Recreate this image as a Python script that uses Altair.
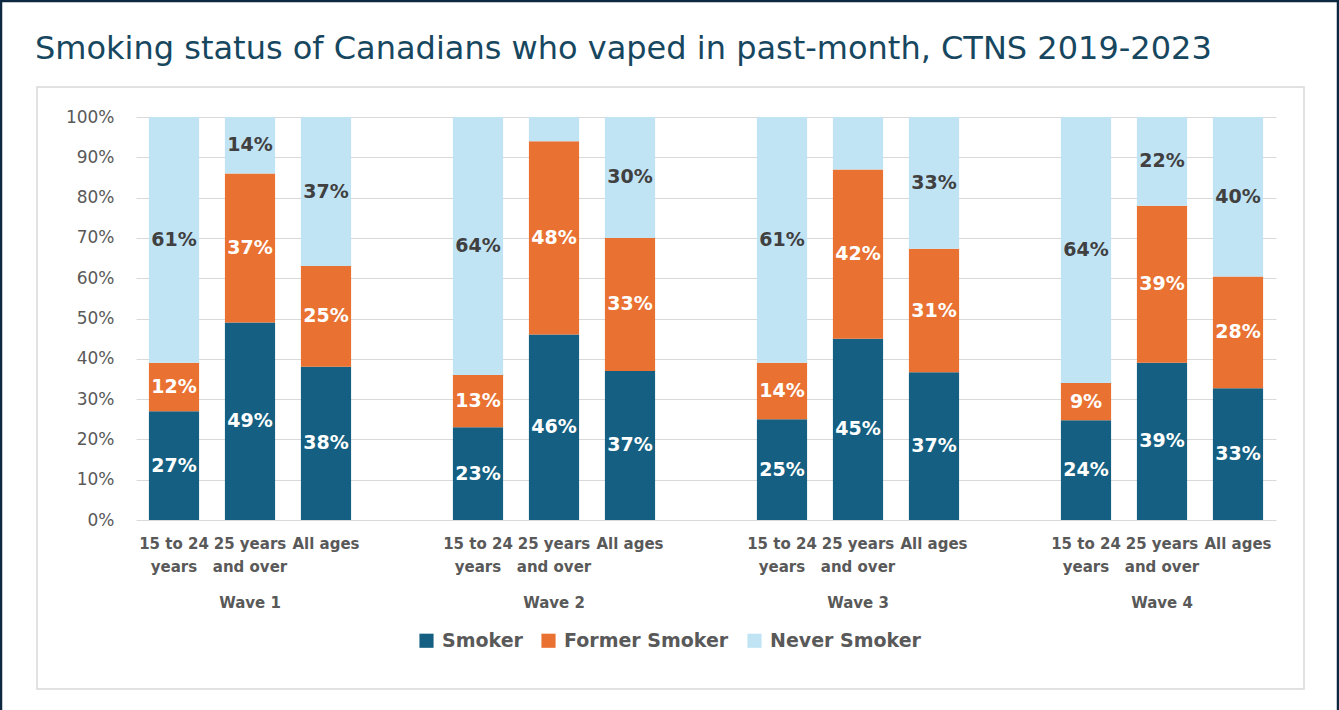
import altair as alt
import pandas as pd

# ---------------- data ----------------
waves = ["Wave 1", "Wave 2", "Wave 3", "Wave 4"]
groups = ["15 to 24 years", "25 years and over", "All ages"]
group_line1 = ["15 to 24", "25 years", "All ages"]
group_line2 = ["years", "and over", ""]
statuses = ["Smoker", "Former Smoker", "Never Smoker"]
colors = ["#156082", "#E97132", "#C1E4F5"]

# values in order: (wave1: 15-24, 25+, all), (wave2 ...), ...
smoker = [27, 49, 38, 23, 46, 37, 25, 45, 37, 24, 39, 33]
former = [12, 37, 25, 13, 48, 33, 14, 42, 31, 9, 39, 28]
never = [61, 14, 37, 64, 6, 30, 61, 13, 33, 64, 22, 40]
hidden = {("Wave 2", "25 years and over", "Never Smoker"),
          ("Wave 3", "25 years and over", "Never Smoker")}

# slot domain (with an empty slot between waves)
slot_domain = []
for i, w in enumerate(waves):
    for g in groups:
        slot_domain.append(f"{w}|{g}")
    if i < len(waves) - 1:
        slot_domain.append(f"gap{i}")

rows = []
series = {"Smoker": smoker, "Former Smoker": former, "Never Smoker": never}
for wi, w in enumerate(waves):
    for gi, g in enumerate(groups):
        idx = wi * 3 + gi
        for si, s in enumerate(statuses):
            v = series[s][idx]
            rows.append({
                "slot": f"{w}|{g}", "wave": w, "group": g, "status": s,
                "order": si, "value": v,
                "label": "" if (w, g, s) in hidden else f"{v}%",
            })
df = pd.DataFrame(rows)

cat_rows = []
for w in waves:
    for gi, g in enumerate(groups):
        cat_rows.append({"slot": f"{w}|{g}",
                         "text": group_line1[gi] + "\n" + group_line2[gi]})
cat_df = pd.DataFrame(cat_rows)
wave_df = pd.DataFrame({"slot": [f"{w}|{groups[1]}" for w in waves], "text": waves})

FONT = "DejaVu Sans"
GRAY = "#595959"

xscale = alt.Scale(domain=slot_domain, paddingInner=0.34, paddingOuter=0.17)
yscale = alt.Scale(domain=[0, 1])

base = alt.Chart(df).transform_stack(
    stack="value", as_=["y0", "y1"], groupby=["slot"],
    sort=[alt.SortField("order", order="ascending")], offset="normalize"
).transform_calculate(mid="(datum.y0 + datum.y1) / 2")

bars = base.mark_bar().encode(
    x=alt.X("slot:N", scale=xscale, axis=None, sort=slot_domain),
    y=alt.Y("y0:Q", scale=yscale, title=None,
            axis=alt.Axis(format="%", values=[i / 10 for i in range(11)],
                          domain=False, ticks=False, grid=True,
                          gridColor="#D9D9D9", gridWidth=1,
                          labelFont=FONT, labelFontSize=17, labelColor=GRAY,
                          labelPadding=22)),
    y2="y1:Q",
    color=alt.Color("status:N", scale=alt.Scale(domain=statuses, range=colors),
                    legend=alt.Legend(orient="none", legendX=281, legendY=514,
                                      direction="horizontal", title=None,
                                      symbolType="square", symbolSize=200,
                                      symbolStrokeWidth=0, labelLimit=0,
                                      labelFont=FONT, labelFontSize=19,
                                      labelFontWeight="bold", labelColor=GRAY,
                                      columnPadding=16, labelOffset=6)),
)

labels = base.mark_text(font=FONT, fontSize=19, fontWeight="bold", baseline="middle").encode(
    x=alt.X("slot:N", scale=xscale, sort=slot_domain),
    y=alt.Y("mid:Q", scale=yscale),
    text="label:N",
    color=alt.condition("datum.status == 'Never Smoker'", alt.value("#404040"), alt.value("white")),
)

cats = alt.Chart(cat_df).mark_text(font=FONT, fontSize=15, fontWeight="bold", color=GRAY,
                                   baseline="top", lineBreak="\n", lineHeight=23).encode(
    x=alt.X("slot:N", scale=xscale, sort=slot_domain),
    y=alt.value(420),
    text="text:N",
)

wave_labels = alt.Chart(wave_df).mark_text(font=FONT, fontSize=15, fontWeight="bold", color=GRAY,
                                           baseline="middle").encode(
    x=alt.X("slot:N", scale=xscale, sort=slot_domain),
    y=alt.value(486),
    text="text:N",
)

one = alt.Chart(pd.DataFrame({"a": [0]}))
frame = one.mark_rect(fill=None, stroke="#0E2841", strokeWidth=2.5).encode(
    x=alt.value(-135), x2=alt.value(1202), y=alt.value(-116), y2=alt.value(600))
inner = one.mark_rect(fill=None, stroke="#D9D9D9", strokeWidth=1.5).encode(
    x=alt.value(-99), x2=alt.value(1168), y=alt.value(-30), y2=alt.value(572))
title = one.mark_text(text="Smoking status of Canadians who vaped in past-month, CTNS 2019-2023",
                      font=FONT, fontSize=32, color="#17475F", align="left",
                      baseline="alphabetic").encode(
    x=alt.value(-101), y=alt.value(-58))

chart = alt.layer(frame, inner, title, bars, labels, cats, wave_labels).properties(
    width=1140, height=403,
    padding={"left": 136, "top": 117, "right": 63, "bottom": 190},
    autosize="none", background="white",
).configure_view(stroke=None)

chart.save("out.html", embed_options={"renderer": "svg", "actions": False})
